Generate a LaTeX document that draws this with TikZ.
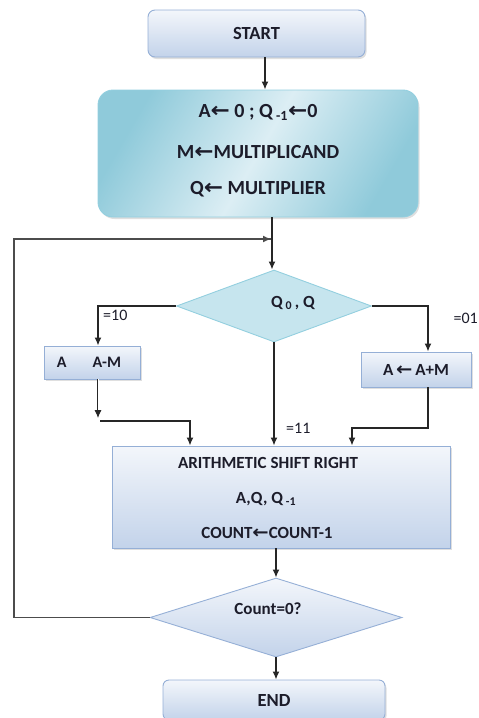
\documentclass[tikz,border=0pt]{standalone}
\usepackage{fontspec}
\setmainfont{Carlito}
\newfontfamily\dv{DejaVu Sans}
\usetikzlibrary{shapes.geometric,arrows.meta,shadows,calc}
\definecolor{bluebd}{HTML}{95AFD6}
\definecolor{bluetop}{HTML}{F3F6FB}
\definecolor{bluebot}{HTML}{C3D3EA}
\definecolor{tealA}{HTML}{8FCADA}
\definecolor{tealB}{HTML}{DCEEF4}
\definecolor{tealbd}{HTML}{93CFDF}
\definecolor{tealfill}{HTML}{C6E5EE}
\definecolor{ink}{HTML}{1C1C2A}
\newcommand{\larr}{{\dv\bfseries\scalebox{1.15}[1.05]{←}}}
\tikzset{
  bluebox/.style={draw=bluebd, line width=0.9pt, top color=bluetop, bottom color=bluebot,
    drop shadow={opacity=0.25, shadow xshift=1.5pt, shadow yshift=-2pt}, inner sep=0pt},
  txt/.style={font=\fontsize{16}{19}\selectfont\bfseries, text=ink},
  big/.style={font=\fontsize{18.5}{22}\selectfont\bfseries, text=ink},
  initt/.style={font=\fontsize{20}{24}\selectfont\bfseries, text=ink},
  conn/.style={draw=black!85, line width=1.4pt},
  arr/.style={conn, -{Latex[length=8pt,width=7pt]}},
  lbl/.style={font=\fontsize{16}{18}\selectfont, text=ink, inner sep=0pt},
}
\begin{document}
\begin{tikzpicture}[x=1pt,y=-1pt]
\useasboundingbox (0,0) rectangle (479,718);
% nodes
\node[bluebox, rounded corners=7pt, minimum width=217pt, minimum height=47pt, big] (start) at (256.5,33.5) {START};
\node[draw=tealbd, line width=0.9pt, rounded corners=15pt, minimum width=320pt, minimum height=127pt,
  top color=tealA, bottom color=tealA, middle color=tealB, shading angle=60,
  drop shadow={opacity=0.25, shadow xshift=1.5pt, shadow yshift=-2pt}] (init) at (258,153.5) {};
\node[initt] (i1) at (258,112) {A\larr{} 0 ; Q\,\textsubscript{-1}\larr0};
\node[initt] (i2) at (258,152) {M\larr MULTIPLICAND};
\node[initt] (i3) at (258,189) {Q\larr{} MULTIPLIER};
\node[diamond, draw=tealbd, line width=0.9pt, fill=tealfill, minimum width=195pt, minimum height=72pt, inner sep=0pt] (d1) at (274,306) {};
\node[txt, font=\fontsize{17}{20}\selectfont\bfseries] (d1t) at (293,303) {Q\,\textsubscript{0}\,, Q};
\node[bluebox, minimum width=96pt, minimum height=33pt] (am) at (92,362.5) {};
\node[txt] (amt) at (89,362) {A\hspace{26pt}A-M};
\node[bluebox, minimum width=110pt, minimum height=35pt, txt, font=\fontsize{17}{19}\selectfont\bfseries] (ap) at (416,369.5) {A\,\larr\,A+M};
\node[bluebox, minimum width=338pt, minimum height=102pt] (asr) at (281,497) {};
\node[txt, font=\fontsize{17}{20}\selectfont\bfseries] (s1) at (268,463) {ARITHMETIC SHIFT RIGHT};
\node[txt, font=\fontsize{17}{20}\selectfont\bfseries] (s2) at (266,499) {A,Q, Q\,\textsubscript{-1}};
\node[txt, font=\fontsize{17}{20}\selectfont\bfseries] (s3) at (267,533) {COUNT\larr COUNT-1};
\node[diamond, draw=bluebd, line width=0.9pt, top color=bluetop, bottom color=bluebot, minimum width=252pt, minimum height=79pt, inner sep=0pt] (d2) at (276,617.5) {};
\node[txt, font=\fontsize{17}{20}\selectfont\bfseries] (d2t) at (268,609) {Count=0?};
\node[bluebox, rounded corners=6pt, minimum width=222pt, minimum height=40pt, big] (end) at (274,700) {END};
% labels
\node[lbl, anchor=west] (l10) at (103,315) {=10};
\node[lbl, anchor=east] (l01) at (478,318) {=01};
\node[lbl, anchor=west] (l11) at (286,428) {=11};
% coordinates
\coordinate (jn) at (272,239);
\coordinate (lp) at (14,617.5);
\coordinate (ja) at (98,418);
\coordinate (jb) at (100,421);
\coordinate (jc) at (428,428);
% connectors
\draw[arr] ([xshift=8.5pt]start.south) -- ([xshift=7pt]init.north);
\draw[conn] ([xshift=14pt]init.south) -- (jn);
\draw[arr] (jn) -- (jn |- d1.north);
\draw[conn, draw=black!70, line width=1.8pt] (d2.west) -- (lp) |- ([xshift=-1pt]jn);
\draw[arr, draw=black!70, line width=1.8pt, shorten >=0pt] (200,239) -- ([xshift=-1pt]jn);
\draw[arr] (d1.west) -| ([xshift=6pt]am.north);
\draw[arr] (d1.east) -| ([xshift=12pt]ap.north);
\draw[arr] (d1.south) -- (d1.south |- asr.north);
\draw[arr, double=white, double distance=1pt, line width=0.9pt] ([xshift=6pt]am.south) -- (ja);
\draw[arr] (jb) -| ([xshift=-91pt]asr.north);
\draw[arr] ([xshift=12pt]ap.south) -- (jc) -| ([xshift=71pt]asr.north);
\draw[arr] (d2.north |- asr.south) -- (d2.north);
\draw[arr] (d2.south) -- (d2.south |- end.north);
\end{tikzpicture}
\end{document}
